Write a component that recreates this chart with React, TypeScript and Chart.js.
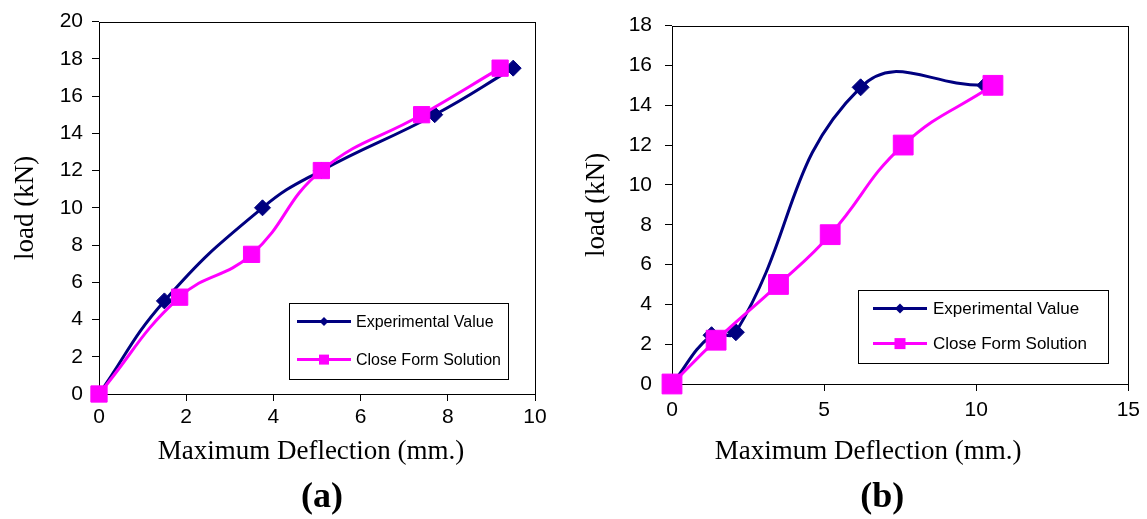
import React, { useEffect, useRef } from 'react';
import { Chart, registerables } from 'chart.js';

Chart.register(...registerables);

const NAVY = '#000080';
const MAGENTA = '#FF00FF';

const SERIES_NAMES = ['Experimental Value', 'Close Form Solution'];
const X_TITLE = 'Maximum Deflection (mm.)';
const Y_TITLE = 'load (kN)';
const PANEL_LABELS = ['(a)', '(b)'];

// Panel (a)
const aExpDeflection = [0, 1.5, 3.75, 5.1, 7.7, 9.5];
const aExpLoad = [0, 5, 10, 12, 15, 17.5];
const aCfsDeflection = [0, 1.85, 3.5, 5.1, 7.4, 9.2];
const aCfsLoad = [0, 5.2, 7.5, 12, 15, 17.5];
const aXTicks = [0, 2, 4, 6, 8, 10];
const aYTicks = [0, 2, 4, 6, 8, 10, 12, 14, 16, 18, 20];

// Panel (b)
const bExpDeflection = [0, 1.3, 2.1, 6.2, 10.3];
const bExpLoad = [0, 2.45, 2.6, 14.9, 15];
const bCfsDeflection = [0, 1.45, 3.5, 5.2, 7.6, 10.55];
const bCfsLoad = [0, 2.2, 5, 7.5, 12, 15];
const bXTicks = [0, 5, 10, 15];
const bYTicks = [0, 2, 4, 6, 8, 10, 12, 14, 16, 18];

const SANS = '"Liberation Sans", Arial, sans-serif';
const SERIF = '"Liberation Serif", "Times New Roman", serif';

const pts = (xs: number[], ys: number[]) => xs.map((x, i) => ({ x, y: ys[i] }));

const framePlugin = {
  id: 'frame',
  beforeDatasetsDraw(chart: any) {
    const { ctx, chartArea: a } = chart;
    ctx.save();
    ctx.strokeStyle = '#000';
    ctx.lineWidth = 1;
    ctx.strokeRect(
      Math.round(a.left) + 0.5,
      Math.round(a.top) + 0.5,
      Math.round(a.right - a.left),
      Math.round(a.bottom - a.top)
    );
    ctx.restore();
  },
};

const captionPlugin = {
  id: 'caption',
  afterDraw(chart: any, _args: any, o: any) {
    const { ctx, chartArea: a } = chart;
    const cx = (a.left + a.right) / 2;
    ctx.save();
    ctx.fillStyle = '#000';
    ctx.textAlign = 'center';
    ctx.textBaseline = 'middle';
    ctx.font = `27px ${SERIF}`;
    ctx.fillText(o.xTitle, cx + o.xTitleDx, a.bottom + o.xTitleDy);
    ctx.font = `bold 36px ${SERIF}`;
    ctx.fillText(o.label, cx + o.labelDx, a.bottom + o.labelDy);
    ctx.restore();
  },
};

const boxLegendPlugin = {
  id: 'boxLegend',
  afterDatasetsDraw(chart: any, _args: any, o: any) {
    const { ctx, chartArea: a } = chart;
    const x = Math.round(a.left + o.x);
    const y = Math.round(a.top + o.y);
    ctx.save();
    ctx.fillStyle = '#fff';
    ctx.fillRect(x, y, o.w, o.h);
    ctx.strokeStyle = '#000';
    ctx.lineWidth = 1;
    ctx.strokeRect(x + 0.5, y + 0.5, o.w, o.h);
    chart.data.datasets.forEach((ds: any, i: number) => {
      const ry = a.top + o.rows[i];
      const x0 = a.left + o.lineX0;
      const x1 = a.left + o.lineX1;
      const mx = (x0 + x1) / 2;
      ctx.strokeStyle = ds.borderColor;
      ctx.lineWidth = 3;
      ctx.beginPath();
      ctx.moveTo(x0, ry);
      ctx.lineTo(x1, ry);
      ctx.stroke();
      ctx.fillStyle = ds.borderColor;
      ctx.beginPath();
      if (ds.pointStyle === 'rectRot') {
        const r = o.diamond;
        ctx.moveTo(mx - r, ry);
        ctx.lineTo(mx, ry - r);
        ctx.lineTo(mx + r, ry);
        ctx.lineTo(mx, ry + r);
        ctx.closePath();
      } else {
        const s = o.square;
        ctx.rect(mx - s / 2, ry - s / 2, s, s);
      }
      ctx.fill();
      ctx.fillStyle = '#000';
      ctx.font = `${o.fontSize}px ${SANS}`;
      ctx.textAlign = 'left';
      ctx.textBaseline = 'middle';
      ctx.fillText(ds.label, a.left + o.textX, ry + 1);
    });
    ctx.restore();
  },
};

type PanelSpec = {
  expX: number[];
  expY: number[];
  cfsX: number[];
  cfsY: number[];
  xTicks: number[];
  yTicks: number[];
  label: string;
  width: number;
  yScaleWidth: number;
  padding: { top: number; right: number; bottom: number; left: number };
  yTitlePad: number;
  yTickPad: number;
  xTickPad: number;
  squareR: number;
  diamondR: number;
  caption: any;
  legend: any;
};

function buildConfig(p: PanelSpec): any {
  return {
    type: 'line',
    data: {
      datasets: [
        {
          label: SERIES_NAMES[0],
          data: pts(p.expX, p.expY),
          borderColor: NAVY,
          backgroundColor: NAVY,
          pointBackgroundColor: NAVY,
          pointBorderColor: NAVY,
          pointBorderWidth: 1,
          pointStyle: 'rectRot',
          pointRadius: p.diamondR,
          borderWidth: 3,
          tension: 0.45,
          fill: false,
          clip: false,
          order: 1,
        },
        {
          label: SERIES_NAMES[1],
          data: pts(p.cfsX, p.cfsY),
          borderColor: MAGENTA,
          backgroundColor: MAGENTA,
          pointBackgroundColor: MAGENTA,
          pointBorderColor: MAGENTA,
          pointBorderWidth: 1,
          pointStyle: 'rect',
          pointRadius: p.squareR,
          borderWidth: 3,
          tension: 0.45,
          fill: false,
          clip: false,
          order: 0,
        },
      ],
    },
    options: {
      responsive: false,
      maintainAspectRatio: false,
      animation: false,
      events: [],
      layout: { padding: p.padding },
      plugins: {
        legend: { display: false },
        tooltip: { enabled: false },
        title: { display: false },
        caption: p.caption,
        boxLegend: p.legend,
      },
      scales: {
        x: {
          type: 'linear',
          min: p.xTicks[0],
          max: p.xTicks[p.xTicks.length - 1],
          afterBuildTicks: (s: any) => {
            s.ticks = p.xTicks.map((v) => ({ value: v }));
          },
          afterFit: (s: any) => {
            s.height = 40;
          },
          border: { display: false },
          grid: {
            display: true,
            drawOnChartArea: false,
            drawTicks: true,
            tickLength: 7,
            color: '#000',
            lineWidth: 1,
          },
          ticks: {
            color: '#000',
            font: { family: SANS, size: 21 },
            padding: p.xTickPad,
            maxRotation: 0,
            autoSkip: false,
          },
          title: { display: false },
        },
        y: {
          type: 'linear',
          min: p.yTicks[0],
          max: p.yTicks[p.yTicks.length - 1],
          afterBuildTicks: (s: any) => {
            s.ticks = p.yTicks.map((v) => ({ value: v }));
          },
          afterFit: (s: any) => {
            s.width = p.yScaleWidth;
          },
          border: { display: false },
          grid: {
            display: true,
            drawOnChartArea: false,
            drawTicks: true,
            tickLength: 7,
            color: '#000',
            lineWidth: 1,
          },
          ticks: {
            color: '#000',
            font: { family: SANS, size: 21 },
            padding: p.yTickPad,
            autoSkip: false,
          },
          title: {
            display: true,
            text: Y_TITLE,
            color: '#000',
            font: { family: SERIF, size: 27, weight: 'normal' },
            padding: { top: p.yTitlePad, bottom: 0 },
          },
        },
      },
    },
    plugins: [framePlugin, captionPlugin, boxLegendPlugin],
  };
}

const PANEL_A: PanelSpec = {
  expX: aExpDeflection,
  expY: aExpLoad,
  cfsX: aCfsDeflection,
  cfsY: aCfsLoad,
  xTicks: aXTicks,
  yTicks: aYTicks,
  label: PANEL_LABELS[0],
  width: 570,
  yScaleWidth: 99,
  padding: { top: 21, right: 35, bottom: 85, left: 0 },
  yTitlePad: 10,
  yTickPad: 9,
  xTickPad: 4,
  squareR: 11.5,
  diamondR: 8,
  caption: { xTitle: X_TITLE, xTitleDx: -6, xTitleDy: 58, label: PANEL_LABELS[0], labelDx: 5, labelDy: 104 },
  legend: { x: 190, y: 281, w: 219, h: 76, lineX0: 198, lineX1: 252, textX: 257, rows: [300, 338], fontSize: 16, diamond: 4.5, square: 10 },
};

const PANEL_B: PanelSpec = {
  expX: bExpDeflection,
  expY: bExpLoad,
  cfsX: bCfsDeflection,
  cfsY: bCfsLoad,
  xTicks: bXTicks,
  yTicks: bYTicks,
  label: PANEL_LABELS[1],
  width: 572,
  yScaleWidth: 97,
  padding: { top: 25, right: 18, bottom: 95, left: 0 },
  yTitlePad: 6,
  yTickPad: 13,
  xTickPad: 7,
  squareR: 14,
  diamondR: 8.5,
  caption: { xTitle: X_TITLE, xTitleDx: -32, xTitleDy: 68, label: PANEL_LABELS[1], labelDx: -18, labelDy: 114 },
  legend: { x: 186, y: 264, w: 250, h: 73, lineX0: 201, lineX1: 255, textX: 261, rows: [283, 318], fontSize: 17, diamond: 5, square: 11 },
};

function Panel({ spec, left }: { spec: PanelSpec; left: number }) {
  const ref = useRef<HTMLCanvasElement>(null);
  useEffect(() => {
    if (!ref.current) return;
    const chart = new Chart(ref.current, buildConfig(spec));
    return () => chart.destroy();
  }, [spec]);
  return (
    <div style={{ position: 'absolute', left, top: 0, width: spec.width, height: 519 }}>
      <canvas ref={ref} width={spec.width} height={519} style={{ width: spec.width, height: 519, display: 'block' }} />
    </div>
  );
}

export default function App() {
  return (
    <div style={{ position: 'fixed', left: 0, top: 0, width: 1147, height: 519, background: '#fff', overflow: 'hidden' }}>
      <Panel spec={PANEL_A} left={0} />
      <Panel spec={PANEL_B} left={575} />
    </div>
  );
}
